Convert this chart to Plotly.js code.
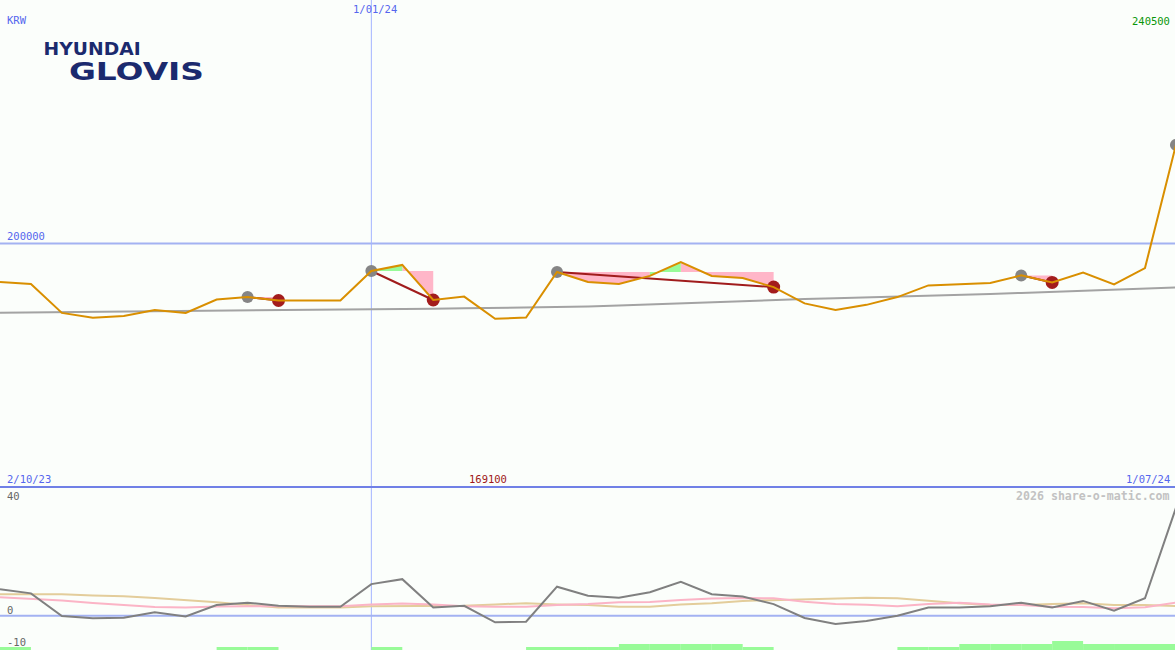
<!DOCTYPE html>
<html><head><meta charset="utf-8">
<script src="https://cdn.plot.ly/plotly-3.0.1.min.js"></script>
<style>html,body{margin:0;padding:0;background:#fbfefb;overflow:hidden}</style>
</head><body><div id="chart" style="width:1175px;height:650px"></div>
<script>
// ---- data (weekly closes, KRW) ----
const weeks = ["2023-10-09","2023-10-16","2023-10-23","2023-10-30","2023-11-06","2023-11-13","2023-11-20","2023-11-27",
"2023-12-04","2023-12-11","2023-12-18","2023-12-25","2024-01-01","2024-01-08","2024-01-15","2024-01-22","2024-01-29",
"2024-02-05","2024-02-12","2024-02-19","2024-02-26","2024-03-04","2024-03-11","2024-03-18","2024-03-25","2024-04-01",
"2024-04-08","2024-04-15","2024-04-22","2024-04-29","2024-05-06","2024-05-13","2024-05-20","2024-05-27","2024-06-03",
"2024-06-10","2024-06-17","2024-06-24","2024-07-01"];
const price = [184200,183400,171500,169500,170200,172700,171500,177000,178000,176600,176600,176600,188700,191200,176800,
178200,169100,169600,188300,184200,183400,186700,192400,186700,185800,182100,175400,172700,174800,178000,182800,183400,
183800,186900,184000,188100,183200,189900,240500];
const trend = [171600,171700,171800,171900,172000,172100,172200,172300,172400,172500,172600,172700,172900,173000,173200,
173400,173500,173700,173800,174100,174500,175000,175400,175900,176400,176800,177200,177500,177800,178100,178400,178900,
179300,179700,180100,180500,180900,181300,181900];
const osc = [9.1,7.7,-0.1,-0.9,-0.7,1.2,-0.3,3.7,4.5,3.4,3.1,3.1,10.9,12.6,2.8,3.4,-2.3,-2.1,10.0,6.9,6.2,8.1,11.7,7.4,
6.6,4.0,-0.8,-2.9,-1.8,0.0,2.8,2.8,3.3,4.5,2.8,5.1,1.7,6.0,37.2];
const oscPink = [6.4,5.9,5.2,4.4,3.7,3.0,2.8,3.2,3.3,3.3,3.3,3.3,3.9,4.2,3.9,3.3,3.1,3.1,3.7,4.0,4.6,4.7,5.4,5.9,6.1,6.0,
4.8,4.0,3.8,3.3,4.0,4.5,3.9,3.7,3.1,3.0,2.6,2.9,4.5];
const oscTan = [7.4,7.4,7.4,7.0,6.7,6.1,5.4,4.6,3.7,2.8,2.8,2.8,3.3,3.4,3.4,3.4,3.9,4.3,3.9,3.7,3.1,3.1,3.9,4.3,5.1,5.4,
5.7,6.0,6.2,6.0,5.1,4.3,3.7,3.7,4.0,4.3,3.7,3.7,3.3];
const band = [1,0,0,0,0,0,0,1,1,0,0,0,1,0,0,0,0,1,1,1,2,2,2,2,1,0,0,0,0,1,1,2,2,2,3,2,2,2,2];
const peakIdx = [8,12,18,33,38];
const troughIdx = [9,14,25,34];
const markerDate = "2024-01-01";
const gridLevel = 200000;
const labels = {currency:"KRW", start:"2/10/23", end:"1/07/24", mid:"1/01/24", hi:"240500", lo:"169100",
  brand1:"HYUNDAI", brand2:"GLOVIS", credit:"2026 share-o-matic.com"};
const oscTicks = [40, 0, -10];

// ---- derived ----
const W = 1175, H = 650;
const xi = weeks.map((_, i) => i);
const splitPx = 487;
const splitP = 1 - splitPx / H;
const px = (x) => x / W, py = (y) => 1 - y / H;

function pairs() {
  return troughIdx.map(t => [Math.max(...peakIdx.filter(q => q < t)), t]);
}
function polys(wantGreen) {
  const xs = [], ys = [];
  pairs().forEach(([p, t]) => {
    const L = price[p];
    for (let i = p; i < t; i++) {
      const g = price[i + 1] > L;
      if (g !== wantGreen) continue;
      xs.push(i, i, i + 1, i + 1, null);
      ys.push(L, price[i], price[i + 1], L, null);
    }
  });
  return {xs, ys};
}
const pk = polys(false), gr = polys(true);
const rlx = [], rly = [];
pairs().forEach(([p, t]) => { rlx.push(p, t, null); rly.push(price[p], price[t], null); });

const traces = [
  {x: pk.xs, y: pk.ys, mode: 'lines', fill: 'toself', fillcolor: '#ffb6c8', line: {width: 0}, hoverinfo: 'skip'},
  {x: gr.xs, y: gr.ys, mode: 'lines', fill: 'toself', fillcolor: '#98fb98', line: {width: 0}, hoverinfo: 'skip'},
  {x: xi, y: trend, mode: 'lines', line: {color: '#a3a3a3', width: 2}},
  {x: rlx, y: rly, mode: 'lines', line: {color: '#a01c1c', width: 2}},
  {x: peakIdx, y: peakIdx.map(i => price[i]), mode: 'markers', marker: {color: '#858585', size: 12}},
  {x: troughIdx, y: troughIdx.map(i => price[i]), mode: 'markers', marker: {color: '#a31c1c', size: 13}},
  {x: xi, y: price, mode: 'lines', line: {color: '#d98f00', width: 2}},
  // lower panel
  {type: 'bar', x: xi, y: band, width: 1, offset: 0, xaxis: 'x2', yaxis: 'y3', marker: {color: '#98fb98', line: {width: 0}}},
  {x: xi, y: oscTan, mode: 'lines', xaxis: 'x2', yaxis: 'y2', line: {color: '#e3cd9b', width: 2}},
  {x: xi, y: oscPink, mode: 'lines', xaxis: 'x2', yaxis: 'y2', line: {color: '#fbb4c6', width: 2}},
  {x: xi, y: osc, mode: 'lines', xaxis: 'x2', yaxis: 'y2', line: {color: '#808080', width: 2}}
];

const xEnd = 37.97;
const hidden = {showgrid: false, zeroline: false, showticklabels: false, ticks: '', showline: false};
const mono = 'DejaVu Sans Mono, monospace';
const blue = '#5566ee';
function ann(text, x, y, xanchor, color, size, extra) {
  return Object.assign({text, x: px(x), y: py(y), xref: 'paper', yref: 'paper', xanchor, yanchor: 'middle',
    showarrow: false, font: {family: mono, size: size || 10.5, color}}, extra || {});
}
const mIdx = weeks.indexOf(markerDate);

const layout = {
  width: W, height: H, margin: {l: 0, r: 0, t: 0, b: 0, pad: 0},
  paper_bgcolor: '#fbfefb', plot_bgcolor: '#fbfefb', showlegend: false,
  xaxis: Object.assign({range: [0, xEnd], anchor: 'y'}, hidden),
  yaxis: Object.assign({range: [100000, 300000], domain: [splitP, 1]}, hidden),
  xaxis2: Object.assign({range: [0, xEnd], anchor: 'y2', matches: 'x'}, hidden),
  yaxis2: Object.assign({range: [-11.83, 44.38], domain: [0, splitP]}, hidden),
  yaxis3: Object.assign({range: [0, 54.33], overlaying: 'y2', anchor: 'x2'}, hidden),
  shapes: [
    {type: 'line', xref: 'paper', yref: 'y', x0: 0, x1: 1, y0: gridLevel, y1: gridLevel, layer: 'below', line: {color: '#a3b2f2', width: 2}},
    {type: 'line', xref: 'x', yref: 'paper', x0: mIdx, x1: mIdx, y0: 0, y1: 1, layer: 'below', line: {color: '#a3b4ff', width: 1}},
    {type: 'line', xref: 'paper', yref: 'y2', x0: 0, x1: 1, y0: 0, y1: 0, layer: 'below', line: {color: '#a3b2f2', width: 2}},
    {type: 'line', xref: 'paper', yref: 'paper', x0: 0, x1: 1, y0: splitP, y1: splitP, layer: 'above', line: {color: '#7080e6', width: 2}}
  ],
  annotations: [
    ann(labels.currency, 5, 20, 'left', blue),
    ann(labels.mid, 375, 9, 'center', blue),
    ann(labels.hi, 1172, 21, 'right', '#0a960a'),
    Object.assign(ann(String(gridLevel), 5, 0, 'left', blue), {yref: 'y', y: gridLevel, yanchor: 'bottom', yshift: 0}),
    ann(labels.start, 5, 479, 'left', blue),
    ann(labels.lo, 488, 479, 'center', '#a01818'),
    ann(labels.end, 1172, 479, 'right', blue),
    ann(labels.credit, 1172, 496, 'right', '#c2c2c2', 11.6, {font: {family: mono, size: 11.6, color: '#c2c2c2', weight: 'bold'}}),
    ...oscTicks.map(v => ({text: String(v), x: px(5), xref: 'paper', y: v, yref: 'y2', xanchor: 'left', yanchor: 'middle',
      yshift: v === 0 ? 6 : (v > 0 ? 4 : 3), showarrow: false, font: {family: mono, size: 10.5, color: '#666666'}})),
    {text: labels.brand1, x: px(91.5), y: py(49), xref: 'paper', yref: 'paper', xanchor: 'center', yanchor: 'middle',
      showarrow: false, font: {family: 'DejaVu Sans', size: 17, color: '#1b2a6e', weight: 'bold'}},
    {text: labels.brand2, x: px(136), y: py(71), xref: 'paper', yref: 'paper', xanchor: 'center', yanchor: 'middle',
      showarrow: false, font: {family: 'DejaVu Sans', size: 25, color: '#1b2a6e', weight: 'bold'}}
  ]
};

Plotly.newPlot('chart', traces, layout, {staticPlot: true}).then(() => {
  const widths = {HYUNDAI: 97, GLOVIS: 135};
  document.querySelectorAll('text.annotation-text').forEach(t => {
    const w = widths[t.textContent];
    if (w) { t.setAttribute('textLength', w); t.setAttribute('lengthAdjust', 'spacingAndGlyphs'); }
  });
});
</script></body></html>
